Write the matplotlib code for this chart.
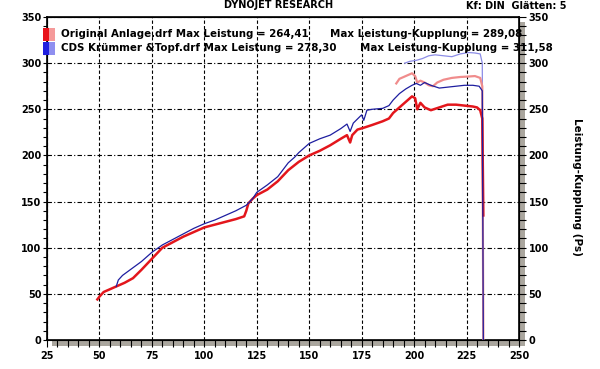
import matplotlib.pyplot as plt
from matplotlib.patches import Rectangle
from matplotlib.ticker import MultipleLocator

# Data
# Original Anlage - Leistung (red)
orig_x = [49, 50, 52, 55, 58, 62, 66, 70, 75, 80, 85, 90, 95, 100, 105, 110, 115, 119,
          120, 121, 123, 125, 130, 135, 140, 145, 150, 155, 160, 165, 168, 169.5, 170.5,
          173, 176, 180, 185, 188, 190, 193, 196, 199, 200.5, 201.5, 203, 205, 208, 212,
          216, 220, 224, 228, 230, 231.5, 232.5, 233]
orig_y = [44, 47, 52, 55, 58, 62, 67, 76, 88, 100, 106, 112, 117, 122, 125, 128, 131, 134,
          140, 148, 153, 157, 163, 172, 184, 193, 200, 205, 211, 218, 222, 214, 222,
          228, 230, 233, 237, 240, 246, 252, 258, 264, 262, 250, 257, 252, 249, 252,
          255, 255, 254, 253, 252, 249, 240, 135]

# CDS Kruemmer & Topf - Leistung (blue)
cds_x = [58, 59, 61, 64, 67, 70, 75, 80, 85, 90, 95, 100, 105, 110, 115, 120, 123, 125,
         130, 135, 140, 143, 145, 150, 155, 160, 165, 168, 169.5, 171, 175, 176, 177.5,
         180, 185, 188, 190, 193, 196, 199, 201, 203, 205, 208, 212, 216, 220, 224, 228,
         231, 232.5, 233]
cds_y = [58, 65, 70, 75, 80, 85, 95, 103, 109, 115, 121, 126, 130, 135, 140, 146, 153, 160,
         168, 177, 192, 198, 203, 213, 218, 222, 229, 234, 226, 235, 244, 238, 249,
         250, 251, 254, 260, 267, 272, 276, 278, 276, 279, 276, 273, 274, 275, 276, 276,
         275, 270, 0]

# Original Anlage - Leistung-Kupplung (pink)
orig_k_x = [191.5, 193, 195, 197, 199, 200.5, 201.5, 203, 205, 207, 209, 211, 214, 218,
            222, 226, 229, 231.5, 232.5, 233]
orig_k_y = [278, 283, 285, 287, 289, 286, 279, 281, 279, 276, 275, 279, 282, 284,
            285, 285.5, 286, 284, 275, 0]

# CDS Kruemmer & Topf - Leistung-Kupplung (light blue)
cds_k_x = [195.5, 198, 201, 204, 207, 210, 214, 218, 222, 226, 229, 231.5, 232.5, 233]
cds_k_y = [300, 302, 303, 305, 308, 309, 308, 307, 310, 311.5, 311, 310, 300, 0]

W, H = 600, 369


def fx(px):
    return px / W


def fy(py):
    return 1 - py / H


fig = plt.figure(figsize=(6, 3.69), dpi=100)
ax = fig.add_axes([fx(47), fy(340), fx(519) - fx(47), fy(17) - fy(340)])

# grey shadow right/bottom of the frame
fig.patches.append(Rectangle((fx(52), fy(346)), fx(525) - fx(52), fy(22) - fy(346),
                             transform=fig.transFigure, facecolor='#aaa69e',
                             edgecolor='none', zorder=0))
ax.set_zorder(1)

ax.plot(cds_k_x, cds_k_y, color='#8c8ce6', lw=0.9, zorder=3)
ax.plot(orig_k_x, orig_k_y, color='#f08c8c', lw=1.6, zorder=3)
ax.plot(cds_x, cds_y, color='#1e1ea0', lw=0.9, zorder=4)
ax.plot(orig_x, orig_y, color='#e3161c', lw=1.8, zorder=3)

ax.set_xlim(25, 250)
ax.set_ylim(0, 350)
ax.xaxis.set_major_locator(MultipleLocator(25))
ax.xaxis.set_minor_locator(MultipleLocator(5))
ax.yaxis.set_major_locator(MultipleLocator(50))
ax.yaxis.set_minor_locator(MultipleLocator(10))

ax.grid(True, which='major', axis='x', color='black', lw=0.8, linestyle=(0, (3, 2)))
ax.grid(True, which='major', axis='y', color='black', lw=0.8, linestyle=(0, (4, 2, 1, 2)))

ax.tick_params(which='both', direction='out', labelsize=7, length=3, width=0.8, pad=1)
ax.tick_params(axis='x', which='both', pad=3, length=5)
for lab in ax.get_xticklabels() + ax.get_yticklabels():
    lab.set_fontweight('bold')
for s in ax.spines.values():
    s.set_linewidth(1.2)

ax2 = ax.twinx()
ax2.set_ylim(0, 350)
ax2.yaxis.set_major_locator(MultipleLocator(50))
ax2.yaxis.set_minor_locator(MultipleLocator(10))
ax2.tick_params(which='both', direction='out', labelsize=7, length=5, width=0.8, pad=2)
for lab in ax2.get_yticklabels():
    lab.set_fontweight('bold')
ax2.set_ylabel('Leistung-Kupplung (Ps)', rotation=270, fontsize=7.5,
               fontweight='bold', va='center')
ax2.yaxis.set_label_coords(1.123, 0.474)

# legend boxes
legend_rows = [(28, '#e8141c', '#f59a9a'), (42, '#2020e0', '#8f8ff0')]
for py, c1, c2 in legend_rows:
    fig.patches.append(Rectangle((fx(43), fy(py + 13)), fx(49) - fx(43), fy(py) - fy(py + 13),
                                 transform=fig.transFigure, facecolor=c1, edgecolor='none', zorder=5))
    fig.patches.append(Rectangle((fx(49), fy(py + 13)), fx(55) - fx(49), fy(py) - fy(py + 13),
                                 transform=fig.transFigure, facecolor=c2, edgecolor='none', zorder=5))

fs = 7.4
fig.text(fx(61), fy(34), 'Original Anlage.drf Max Leistung = 264,41', fontsize=fs,
         fontweight='bold', va='center')
fig.text(fx(330), fy(34), 'Max Leistung-Kupplung = 289,08', fontsize=fs,
         fontweight='bold', va='center')
fig.text(fx(61), fy(48), 'CDS Krümmer &Topf.drf Max Leistung = 278,30', fontsize=fs,
         fontweight='bold', va='center')
fig.text(fx(360), fy(48), 'Max Leistung-Kupplung = 311,58', fontsize=fs,
         fontweight='bold', va='center')

fig.text(fx(279), fy(5), 'DYNOJET RESEARCH', fontsize=7, fontweight='bold',
         ha='center', va='center')
fig.text(fx(466), fy(6), 'Kf: DIN  Glätten: 5', fontsize=7, fontweight='bold',
         ha='left', va='center')

fig.savefig('out.png', dpi=100)
